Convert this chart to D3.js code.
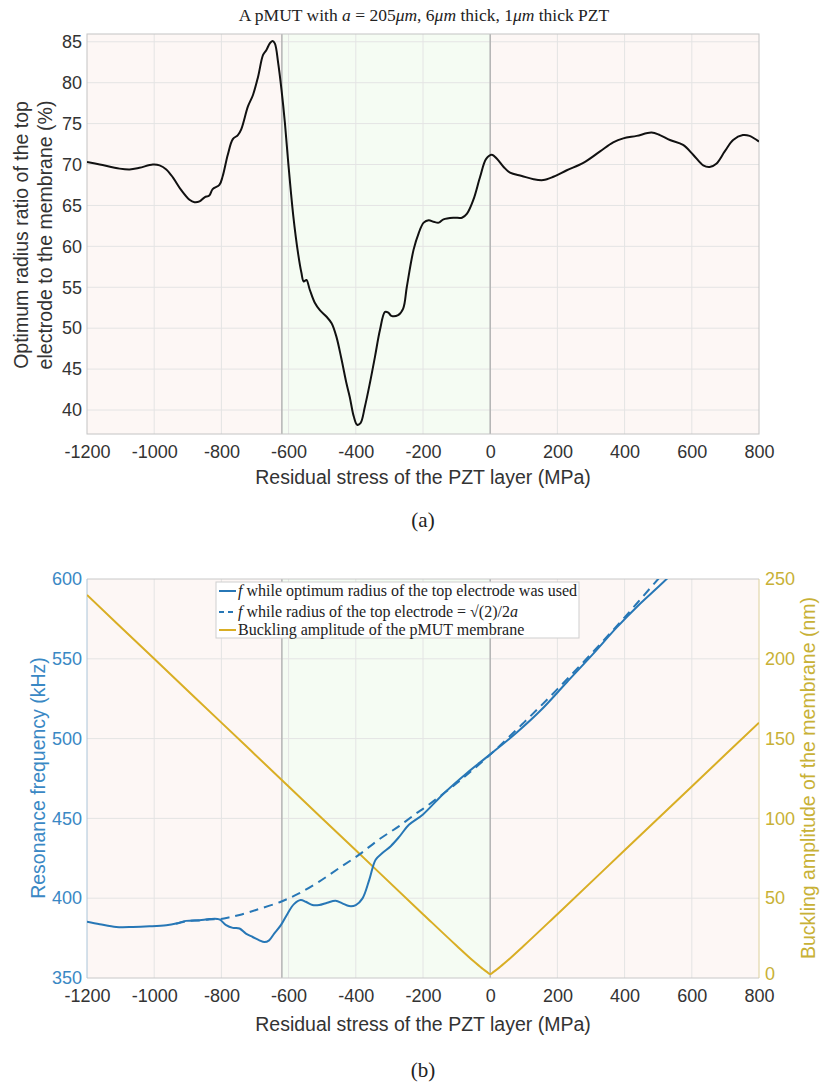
<!DOCTYPE html>
<html>
<head>
<meta charset="utf-8">
<script src="https://cdn.jsdelivr.net/npm/d3@7"></script>
<style>
  body { margin: 0; background: #ffffff; }
  svg { display: block; }
</style>
</head>
<body>
<svg id="fig" width="825" height="1086"></svg>
<script>
// ---- data -------------------------------------------------------------
// x axis: residual stress of the PZT layer (MPa)
const xTicks = [-1200, -1000, -800, -600, -400, -200, 0, 200, 400, 600, 800];
// stress regions shaded in both panels (MPa)
const regionEdges = [-1200, -620, 0, 800];
const regionKinds = ["pink", "green", "pink"];

// (a) optimum electrode radius ratio (%) vs stress
const ratioStress = [-1200,-1162,-1103,-1073,-1044,-1004,-984,-964,-944,-920,-895,-880,-865,-850,-836,-826,-806,-796,-781,-766,-751,-741,-721,-706,-691,-676,-666,-656,-648,-641,-631,-621,-611,-601,-586,-572,-562,-555,-547,-537,-522,-507,-487,-472,-458,-443,-428,-418,-406,-396,-386,-373,-358,-343,-328,-313,-303,-294,-274,-259,-248,-228,-213,-198,-183,-168,-153,-139,-109,-84,-69,-50,-30,-12,5,20,40,59,94,129,158,188,228,277,327,366,396,436,480,505,535,574,604,634,653,673,698,723,752,772,800];
const ratioValue  = [70.3,70.0,69.5,69.4,69.6,70.0,69.9,69.4,68.4,66.9,65.7,65.4,65.5,66.0,66.2,67.0,67.5,68.6,71.2,73.1,73.6,74.3,77.1,78.5,80.7,83.4,84.0,84.8,85.1,84.8,82.4,79.1,75.1,70.2,63.7,59.2,56.8,55.7,55.9,54.7,53.1,52.2,51.4,50.6,49.0,46.3,43.3,41.6,39.2,38.2,38.4,40.4,43.3,46.5,49.8,52.0,51.9,51.5,51.6,52.4,55.1,59.6,61.6,62.9,63.2,63.0,62.9,63.3,63.5,63.5,64.0,65.7,68.5,70.7,71.2,70.7,69.7,69.0,68.6,68.2,68.1,68.5,69.3,70.2,71.6,72.7,73.2,73.5,73.9,73.6,73.0,72.4,71.2,69.9,69.7,70.1,71.6,73.0,73.6,73.5,72.8];
const ratioTicks = [40, 45, 50, 55, 60, 65, 70, 75, 80, 85];

// (b) resonance frequency (kHz) with the optimum electrode radius
const freqOptStress = [-1200,-1162,-1113,-1063,-1014,-964,-935,-905,-865,-836,-806,-786,-766,-746,-727,-707,-687,-672,-658,-643,-623,-604,-584,-564,-549,-529,-509,-485,-460,-440,-420,-400,-380,-360,-341,-321,-296,-271,-242,-200,-139,-69,0,79,149,228,307,376,446,495,530];
const freqOptValue  = [385.2,383.7,382.0,382.0,382.4,383.1,384.1,385.8,386.2,386.9,386.7,383.1,381.4,381.0,377.8,375.7,373.6,372.5,373.6,377.8,383.1,390.0,396.3,398.9,397.8,395.7,395.7,397.2,398.4,396.8,395.1,395.7,399.9,411.5,424.1,428.3,432.6,438.4,446.0,452.5,465.5,478.5,490.1,503.8,517.4,535.3,553.2,569.5,584.5,594.0,601.0];
// (b) resonance frequency (kHz) with electrode radius = sqrt(2)/2 a
const freqFixStress = [-935,-905,-865,-836,-806,-776,-746,-697,-623,-569,-509,-450,-390,-331,-271,-217,-200,-100,0,100,200,300,400,500,530];
const freqFixValue  = [384.0,385.6,386.1,386.7,386.9,388.0,389.5,392.6,397.8,403.0,410.4,418.8,427.3,436.8,445.2,453.6,456.0,472.0,490.0,510.0,531.0,553.0,576.0,600.0,607.0];
const freqTicks = [350, 400, 450, 500, 550, 600];
// (b) buckling amplitude of the membrane (nm)
const buckleStress = [-1200,-1000,-800,-600,-400,-200,-100,-50,-25,-10,0,10,25,50,100,200,400,600,800];
const buckleValue  = [240,200,160,120,80,40,20.2,10.6,6.2,3.8,2.5,3.8,6.2,10.6,20.2,40,80,120,160];
const buckleTicks = [0, 50, 100, 150, 200, 250];

// ---- styles -----------------------------------------------------------
const SANS = "'Liberation Sans', Arial, Helvetica, sans-serif";
const SERIF = "'Liberation Serif', 'DejaVu Serif', serif";
const TXT = "#333333";
const BLUE = "#2777b6", BLUE_TXT = "#3a88c4";
const GOLD = "#d9ae24", GOLD_TXT = "#c8b136";
const BG = { pink: "#fdf7f5", green: "#f5fcf3" };

const svg = d3.select("#fig");

// ---- shared panel layout ---------------------------------------------
function panel(top, bottom, yDomain, id) {
  const x = d3.scaleLinear().domain([-1200, 800]).range([87, 759]);
  const y = d3.scaleLinear().domain(yDomain).range([bottom, top]);
  const g = svg.append("g");

  g.append("clipPath").attr("id", id).append("rect")
    .attr("x", 87).attr("y", top).attr("width", 672).attr("height", bottom - top);

  // shaded stress regions
  g.selectAll("rect.region").data(regionKinds).enter().append("rect")
    .attr("class", "region")
    .attr("x", (d, i) => x(regionEdges[i]))
    .attr("width", (d, i) => x(regionEdges[i + 1]) - x(regionEdges[i]))
    .attr("y", top).attr("height", bottom - top)
    .attr("fill", d => BG[d]);
  return { x, y, g, top, bottom };
}

function grid(p, yTicks) {
  p.g.append("g").selectAll("line").data(xTicks.slice(1, -1)).enter().append("line")
    .attr("x1", d => p.x(d)).attr("x2", d => p.x(d))
    .attr("y1", p.top).attr("y2", p.bottom)
    .attr("stroke", "#e4e4e4").attr("stroke-width", 1);
  p.g.append("g").selectAll("line").data(yTicks).enter().append("line")
    .attr("x1", 87).attr("x2", 759)
    .attr("y1", d => p.y(d)).attr("y2", d => p.y(d))
    .attr("stroke", "#e4e4e4").attr("stroke-width", 1);
  // region boundaries
  p.g.append("g").selectAll("line").data([regionEdges[1], regionEdges[2]]).enter().append("line")
    .attr("x1", d => p.x(d)).attr("x2", d => p.x(d))
    .attr("y1", p.top).attr("y2", p.bottom)
    .attr("stroke", "#b4b4b4").attr("stroke-width", 1.5);
}

function xAxis(p, labelY) {
  const ax = d3.axisBottom(p.x).tickValues(xTicks).tickSize(0).tickPadding(0)
    .tickFormat(d => d);
  const a = p.g.append("g").attr("transform", `translate(0,${p.bottom})`).call(ax);
  a.select(".domain").remove();
  a.selectAll("text").attr("dy", null).attr("y", 24)
    .attr("font-family", SANS).attr("font-size", 18).attr("fill", TXT);
  p.g.append("text").attr("x", 423).attr("y", labelY).attr("text-anchor", "middle")
    .attr("font-family", SANS).attr("font-size", 19.5).attr("fill", TXT)
    .text("Residual stress of the PZT layer (MPa)");
}

// ---- (a) ---------------------------------------------------------------
const pa = panel(34, 434, [37.07, 85.95], "clipA");
grid(pa, ratioTicks);
{
  const ax = d3.axisLeft(pa.y).tickValues(ratioTicks).tickSize(0).tickPadding(5);
  const a = pa.g.append("g").attr("transform", "translate(87,0)").call(ax);
  a.select(".domain").remove();
  a.selectAll("text").attr("font-family", SANS).attr("font-size", 18).attr("fill", TXT);
}
xAxis(pa, 484);
pa.g.append("rect").attr("x", 87).attr("y", 34).attr("width", 672).attr("height", 400)
  .attr("fill", "none").attr("stroke", "#c4c4c4").attr("stroke-width", 1);

pa.g.append("path")
  .datum(d3.zip(ratioStress, ratioValue))
  .attr("clip-path", "url(#clipA)")
  .attr("fill", "none").attr("stroke", "#111111").attr("stroke-width", 2)
  .attr("d", d3.line().x(d => pa.x(d[0])).y(d => pa.y(d[1])).curve(d3.curveCatmullRom.alpha(0.5)));

pa.g.append("text").attr("transform", "translate(28,235) rotate(-90)")
  .attr("text-anchor", "middle").attr("font-family", SANS).attr("font-size", 19.5).attr("fill", TXT)
  .text("Optimum radius ratio of the top");
pa.g.append("text").attr("transform", "translate(52,235) rotate(-90)")
  .attr("text-anchor", "middle").attr("font-family", SANS).attr("font-size", 19.5).attr("fill", TXT)
  .text("electrode to the membrane (%)");

// title
{
  const t = svg.append("text").attr("x", 424).attr("y", 21).attr("text-anchor", "middle")
    .attr("font-family", SERIF).attr("font-size", 17.5).attr("fill", "#222");
  t.append("tspan").text("A pMUT with ");
  t.append("tspan").attr("font-style", "italic").text("a");
  t.append("tspan").text(" = 205");
  t.append("tspan").attr("font-style", "italic").text("μm");
  t.append("tspan").text(", 6");
  t.append("tspan").attr("font-style", "italic").text("μm");
  t.append("tspan").text(" thick, 1");
  t.append("tspan").attr("font-style", "italic").text("μm");
  t.append("tspan").text(" thick PZT");
}
svg.append("text").attr("x", 423).attr("y", 527).attr("text-anchor", "middle")
  .attr("font-family", SERIF).attr("font-size", 21).attr("fill", "#222").text("(a)");

// ---- (b) ---------------------------------------------------------------
const pb = panel(579, 978, [350, 600], "clipB");
const yR = d3.scaleLinear().domain([0, 250]).range([978, 579]);
grid(pb, freqTicks.slice(1, -1));
{
  const ax = d3.axisLeft(pb.y).tickValues(freqTicks).tickSize(0).tickPadding(5);
  const a = pb.g.append("g").attr("transform", "translate(87,0)").call(ax);
  a.select(".domain").remove();
  a.selectAll("text").attr("font-family", SANS).attr("font-size", 18).attr("fill", BLUE_TXT);
  const ar = d3.axisRight(yR).tickValues(buckleTicks).tickSize(0).tickPadding(6);
  const b = pb.g.append("g").attr("transform", "translate(759,0)").call(ar);
  b.select(".domain").remove();
  b.selectAll("text").attr("font-family", SANS).attr("font-size", 18).attr("fill", GOLD_TXT)
    .attr("dy", d => d === 0 ? "0.1em" : "0.32em");
}
xAxis(pb, 1031);
// frame: top/bottom grey, left blue-grey, right gold
pb.g.append("line").attr("x1", 87).attr("x2", 759).attr("y1", 579).attr("y2", 579).attr("stroke", "#c8c8c8");
pb.g.append("line").attr("x1", 87).attr("x2", 759).attr("y1", 978).attr("y2", 978).attr("stroke", "#c8c8c8");
pb.g.append("line").attr("x1", 87).attr("x2", 87).attr("y1", 579).attr("y2", 978).attr("stroke", "#aac4d8");
pb.g.append("line").attr("x1", 759).attr("x2", 759).attr("y1", 579).attr("y2", 978).attr("stroke", "#dcd09a");

const lineB = d3.line().x(d => pb.x(d[0])).y(d => pb.y(d[1])).curve(d3.curveCatmullRom.alpha(0.5));
const lineR = d3.line().x(d => pb.x(d[0])).y(d => yR(d[1])).curve(d3.curveMonotoneX);

pb.g.append("path").datum(d3.zip(buckleStress, buckleValue))
  .attr("clip-path", "url(#clipB)").attr("fill", "none")
  .attr("stroke", GOLD).attr("stroke-width", 2).attr("d", lineR);
pb.g.append("path").datum(d3.zip(freqFixStress, freqFixValue))
  .attr("clip-path", "url(#clipB)").attr("fill", "none")
  .attr("stroke", BLUE).attr("stroke-width", 2).attr("stroke-dasharray", "9,6").attr("d", lineB);
pb.g.append("path").datum(d3.zip(freqOptStress, freqOptValue))
  .attr("clip-path", "url(#clipB)").attr("fill", "none")
  .attr("stroke", BLUE).attr("stroke-width", 2).attr("d", lineB);

pb.g.append("text").attr("transform", "translate(45,778) rotate(-90)")
  .attr("text-anchor", "middle").attr("font-family", SANS).attr("font-size", 19.5).attr("fill", BLUE_TXT)
  .text("Resonance frequency (kHz)");
pb.g.append("text").attr("transform", "translate(815,778) rotate(-90)")
  .attr("text-anchor", "middle").attr("font-family", SANS).attr("font-size", 19.5).attr("fill", GOLD_TXT)
  .text("Buckling amplitude of the membrane (nm)");

// legend
{
  const lg = pb.g.append("g");
  lg.append("rect").attr("x", 216).attr("y", 582).attr("width", 363).attr("height", 56)
    .attr("fill", "#ffffff").attr("stroke", "#cfcfcf").attr("stroke-width", 1);
  const rows = [
    { y: 591, color: BLUE, dash: null },
    { y: 612, color: BLUE, dash: "5,4" },
    { y: 630, color: GOLD, dash: null }
  ];
  rows.forEach(r => {
    lg.append("line").attr("x1", 219).attr("x2", 236).attr("y1", r.y).attr("y2", r.y)
      .attr("stroke", r.color).attr("stroke-width", 2).attr("stroke-dasharray", r.dash);
  });
  const fs = 16;
  const t1 = lg.append("text").attr("x", 238).attr("y", 596).attr("font-family", SERIF).attr("font-size", fs).attr("fill", "#222");
  t1.append("tspan").attr("font-style", "italic").text("f");
  t1.append("tspan").text(" while optimum radius of the top electrode was used");
  const t2 = lg.append("text").attr("x", 238).attr("y", 617).attr("font-family", SERIF).attr("font-size", fs).attr("fill", "#222");
  t2.append("tspan").attr("font-style", "italic").text("f");
  t2.append("tspan").text(" while radius of the top electrode = √(2)/2");
  t2.append("tspan").attr("font-style", "italic").text("a");
  lg.append("text").attr("x", 238).attr("y", 635).attr("font-family", SERIF).attr("font-size", fs).attr("fill", "#222")
    .text("Buckling amplitude of the pMUT membrane");
}

svg.append("text").attr("x", 423).attr("y", 1077).attr("text-anchor", "middle")
  .attr("font-family", SERIF).attr("font-size", 21).attr("fill", "#222").text("(b)");
</script>
</body>
</html>
